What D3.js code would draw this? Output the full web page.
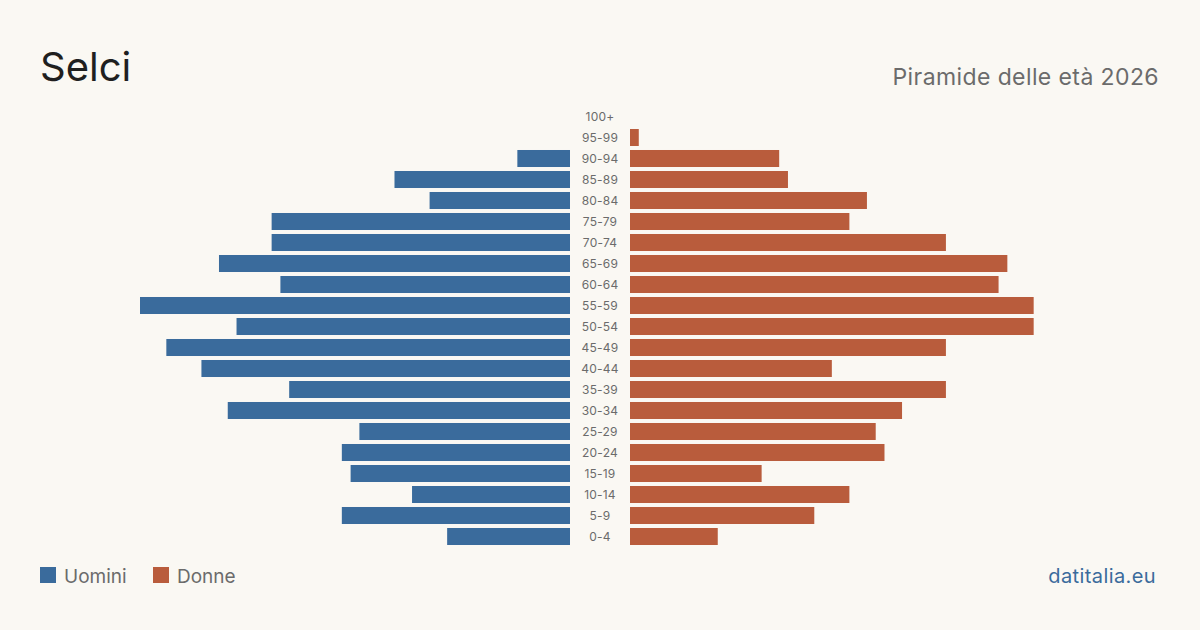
<!DOCTYPE html>
<html>
<head>
<meta charset="utf-8">
<script src="https://cdn.jsdelivr.net/npm/d3@7"></script>
<style>
  html, body { margin: 0; padding: 0; background: #faf8f3; }
  svg { display: block; font-family: Inter, "Noto Sans", sans-serif; }
</style>
</head>
<body>
<svg id="chart" width="1200" height="630"></svg>
<script>
// Data
const ageGroups = ["100+", "95-99", "90-94", "85-89", "80-84", "75-79", "70-74", "65-69", "60-64", "55-59",
                   "50-54", "45-49", "40-44", "35-39", "30-34", "25-29", "20-24", "15-19", "10-14", "5-9", "0-4"];
const men   = [0, 0, 6, 20, 16, 34, 34, 40, 33, 49, 38, 46, 42, 32, 39, 24, 26, 25, 18, 26, 14];
const women = [0, 1, 17, 18, 27, 25, 36, 43, 42, 46, 46, 36, 23, 36, 31, 28, 29, 15, 25, 21, 10];
const legendLabels = ["Uomini", "Donne"];

const BLUE = "#3a6b9c", RED = "#b95c3c";

const svg = d3.select("#chart");

const maxVal = d3.max(men.concat(women));

const y = d3.scaleBand()
	.domain(ageGroups)
	.range([106, 547])
	.paddingInner(0.19)
	.paddingOuter(0.095);

const xLeft = d3.scaleLinear().domain([0, maxVal]).range([570, 140]);
const xRight = d3.scaleLinear().domain([0, maxVal]).range([630, 1060]);

// title
svg.append("text")
	.attr("x", 40).attr("y", 81)
	.attr("font-size", 40)
	.attr("fill", "#1f1f1f")
	.text("Selci");

svg.append("text")
	.attr("x", 1159).attr("y", 85)
	.attr("text-anchor", "end")
	.attr("font-size", 23)
	.attr("letter-spacing", 0.4)
	.attr("fill", "#6b6b6b")
	.text("Piramide delle età 2026");

// bars
svg.append("g")
	.selectAll("rect")
	.data(ageGroups.map((a, i) => ({age: a, v: men[i]})).filter(d => d.v > 0))
	.enter()
	.append("rect")
		.attr("x", d => xLeft(d.v))
		.attr("y", d => y(d.age))
		.attr("width", d => xLeft(0) - xLeft(d.v))
		.attr("height", y.bandwidth())
		.attr("fill", BLUE);

svg.append("g")
	.selectAll("rect")
	.data(ageGroups.map((a, i) => ({age: a, v: women[i]})).filter(d => d.v > 0))
	.enter()
	.append("rect")
		.attr("x", xRight(0))
		.attr("y", d => y(d.age))
		.attr("width", d => xRight(d.v) - xRight(0))
		.attr("height", y.bandwidth())
		.attr("fill", RED);

// age labels
svg.append("g")
	.selectAll("text")
	.data(ageGroups)
	.enter()
	.append("text")
		.attr("x", 600)
		.attr("y", d => y(d) + y.bandwidth() / 2)
		.attr("dy", "0.35em")
		.attr("text-anchor", "middle")
		.attr("font-size", 12)
		.attr("letter-spacing", 0.2)
		.attr("fill", "#6b6b6b")
		.text(d => d);

// legend
const legendX = [40, 153];
const lg = svg.append("g")
	.selectAll("g")
	.data(legendLabels)
	.enter()
	.append("g")
		.attr("transform", (d, i) => "translate(" + legendX[i] + ",567)");

lg.append("rect")
	.attr("width", 16).attr("height", 16)
	.attr("fill", (d, i) => i === 0 ? BLUE : RED);

lg.append("text")
	.attr("x", 24).attr("y", 16)
	.attr("font-size", 19)
	.attr("fill", "#6b6b6b")
	.text(d => d);

svg.append("text")
	.attr("x", 1156).attr("y", 583)
	.attr("text-anchor", "end")
	.attr("font-size", 20)
	.attr("letter-spacing", 0.4)
	.attr("fill", BLUE)
	.text("datitalia.eu");
</script>
</body>
</html>
